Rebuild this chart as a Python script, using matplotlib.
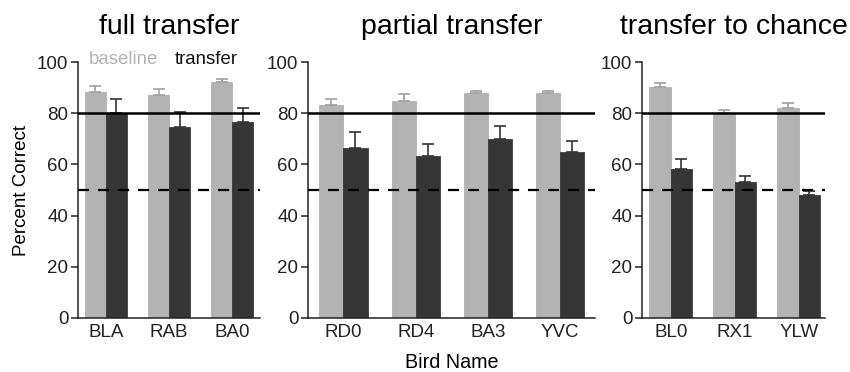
import matplotlib.pyplot as plt
import numpy as np

plt.rcParams['font.family'] = ['Liberation Sans', 'DejaVu Sans']

# data
titles = ['full transfer', 'partial transfer', 'transfer to chance']
birds = [['BLA', 'RAB', 'BA0'],
         ['RD0', 'RD4', 'BA3', 'YVC'],
         ['BL0', 'RX1', 'YLW']]
baseline = [[88.2, 87.2, 92.4],
            [83.1, 84.8, 87.9, 87.9],
            [90.4, 80.0, 82.2]]
baseline_err = [[2.3, 2.1, 1.1],
                [2.6, 2.8, 0.6, 0.9],
                [1.3, 1.3, 1.9]]
transfer = [[80.0, 74.7, 76.4],
            [66.5, 63.2, 69.8, 64.7],
            [58.1, 53.1, 48.0]]
transfer_err = [[5.4, 5.8, 5.5],
                [6.2, 4.9, 5.2, 4.3],
                [4.1, 2.2, 1.7]]
criterion = 80
chance = 50

light = '#b3b3b3'
dark = '#363636'

fig = plt.figure(figsize=(8.5, 3.72), dpi=100)
# axes boxes in figure fractions (left, bottom, width, height)
boxes = [(0.0918, 0.1452, 0.2141, 0.688),
         (0.3624, 0.1452, 0.3376, 0.688),
         (0.7553, 0.1452, 0.2153, 0.688)]
xlims = [(-0.44, 2.44), (-0.49, 3.48), (-0.45, 2.41)]
w = 0.333

for i in range(3):
    ax = fig.add_axes(boxes[i])
    x = np.arange(len(birds[i]))
    ax.bar(x - w / 2, baseline[i], w, color=light, edgecolor='#a8a8a8', linewidth=0.5,
           yerr=[np.zeros(len(x)), baseline_err[i]], ecolor='#a0a0a0',
           error_kw=dict(capsize=4, elinewidth=1.2, capthick=1.2))
    ax.bar(x + w / 2, transfer[i], w, color=dark, edgecolor='#2a2a2a', linewidth=0.5,
           yerr=[np.zeros(len(x)), transfer_err[i]], ecolor='#333333',
           error_kw=dict(capsize=4, elinewidth=1.2, capthick=1.2))
    ax.axhline(criterion, color='black', lw=1.8, zorder=3)
    ax.axhline(chance, color='black', lw=1.6, ls=(0, (5, 4)), zorder=3)
    ax.set_xlim(*xlims[i])
    ax.set_ylim(0, 100)
    ax.set_yticks([0, 20, 40, 60, 80, 100])
    ax.set_xticks(x)
    ax.set_xticklabels(birds[i])
    ax.tick_params(axis='x', length=0, labelsize=13.5, pad=4, colors='#222222')
    ax.tick_params(axis='y', length=5, width=1.1, labelsize=13.5, pad=2, colors='#222222')
    for s in ['top', 'right']:
        ax.spines[s].set_visible(False)
    for s in ['left', 'bottom']:
        ax.spines[s].set_linewidth(1.1)
        ax.spines[s].set_color('#222222')
    ax.set_title(titles[i], fontsize=20.5, pad=20)
    if i == 0:
        ax.set_ylabel('Percent Correct', fontsize=13.5, labelpad=5)
        ax.text(0.06, 1.01, 'baseline', color=light, fontsize=13.4,
                transform=ax.transAxes, va='center')
        ax.text(0.53, 1.01, 'transfer', color='#111111', fontsize=13.4,
                transform=ax.transAxes, va='center')
    if i == 1:
        ax.set_xlabel('Bird Name', fontsize=14.2, labelpad=9)

fig.savefig('out.png', dpi=100)
